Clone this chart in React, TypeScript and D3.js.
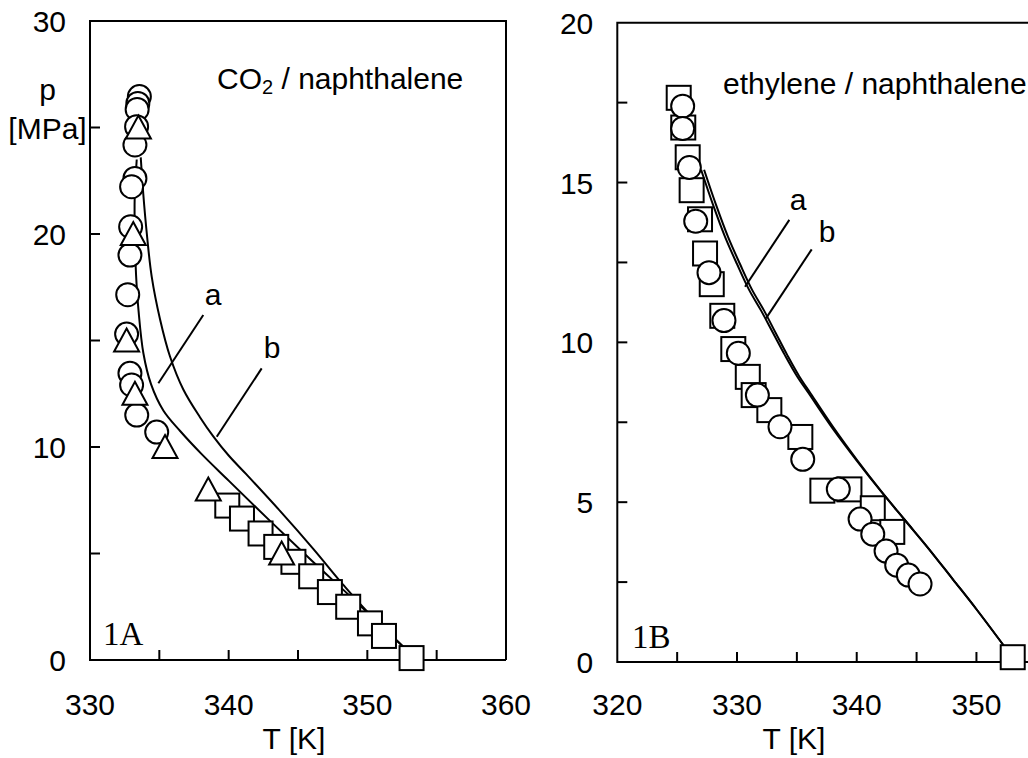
import React from "react";
import * as d3 from "d3";

// ---------- Panel A : CO2 / naphthalene ----------
const A_circleT = [333.56, 333.45, 333.4, 333.36, 333.24, 333.24, 333.0, 332.93, 332.88, 332.72, 332.64, 332.88, 333.0, 333.37, 334.81];
const A_circleP = [26.45, 26.13, 25.85, 25.04, 24.18, 22.61, 22.22, 20.34, 19.01, 17.15, 15.3, 13.46, 12.91, 11.5, 10.7];
const A_triT = [333.49, 333.12, 332.64, 333.24, 335.41, 338.53, 343.82];
const A_triP = [25, 20, 15, 12.5, 10, 8, 5];
const A_sqT = [339.9, 340.96, 342.3, 343.43, 344.67, 345.95, 347.3, 348.62, 350.19, 351.2, 353.19];
const A_sqP = [7.25, 6.64, 5.94, 5.31, 4.61, 3.93, 3.19, 2.5, 1.72, 1.13, 0.09];
const A_curveA_T = [333.37, 333.22, 333.25, 333.32, 333.5, 333.85, 334.4, 335.3, 336.5, 338.0, 340.0, 343.0, 346.0, 349.0, 353.6];
const A_curveA_P = [23.5, 21.6, 19.5, 18.1, 16.4, 14.4, 12.95, 11.7, 10.75, 9.7, 8.42, 6.52, 4.66, 2.85, 0.0];
const A_curveB_T = [333.66, 333.84, 334.1, 334.45, 335.05, 335.77, 336.73, 337.93, 338.89, 340.0, 341.3, 343.7, 346.1, 348.3, 350.0, 353.6];
const A_curveB_P = [23.6, 21.9, 20.0, 18.0, 16.0, 14.25, 12.7, 11.4, 10.5, 9.6, 8.7, 7.0, 5.22, 3.5, 2.27, 0.0];
const A_xTicks = [335, 340, 345, 350, 355];
const A_xLabels = [330, 340, 350, 360];
const A_yTicks = [5, 10, 15, 20, 25];
const A_yLabels = [0, 10, 20, 30];
const A_leaderA = [[338.17, 16.2], [334.93, 12.99]];
const A_leaderB = [[342.38, 13.69], [339.14, 10.48]];

// ---------- Panel B : ethylene / naphthalene ----------
const B_sqT = [325.13, 325.51, 325.88, 326.21, 326.91, 327.33, 327.89, 328.77, 329.69, 330.9, 331.39, 332.7, 335.29, 337.13, 339.39, 341.34, 342.97, 353.03];
const B_sqP = [17.65, 16.72, 15.79, 14.76, 13.85, 12.78, 11.82, 10.83, 9.79, 8.92, 8.35, 7.88, 7.04, 5.36, 5.4, 4.81, 4.07, 0.15];
const B_circleT = [325.46, 325.46, 326.02, 326.55, 327.66, 328.91, 330.11, 331.7, 333.59, 335.49, 338.46, 340.28, 341.34, 342.45, 343.34, 344.31, 345.29];
const B_circleP = [17.39, 16.69, 15.47, 13.79, 12.18, 10.68, 9.66, 8.35, 7.36, 6.34, 5.41, 4.47, 4.0, 3.47, 3.03, 2.72, 2.44];
const B_curveA_T = [327.0, 328.0, 329.0, 330.0, 331.0, 332.0, 333.0, 334.0, 335.0, 336.0, 338.0, 340.0, 342.0, 344.0, 346.0, 348.0, 350.0, 353.0];
const B_curveA_P = [15.4, 14.3, 13.3, 12.45, 11.65, 11.0, 10.3, 9.6, 8.95, 8.4, 7.3, 6.3, 5.35, 4.45, 3.55, 2.6, 1.65, 0.15];
const B_curveB_T = [327.25, 328.25, 329.25, 330.25, 331.25, 332.25, 333.22, 334.2, 335.18, 336.15, 338.12, 340.06, 342.02, 344.0, 346.0, 348.0, 350.0, 353.0];
const B_curveB_P = [15.4, 14.3, 13.3, 12.45, 11.65, 11.0, 10.3, 9.6, 8.95, 8.4, 7.3, 6.3, 5.35, 4.45, 3.55, 2.6, 1.65, 0.15];
const B_xTicks = [325, 330, 335, 340, 345, 350];
const B_xLabels = [320, 330, 340, 350];
const B_yTicks = [2.5, 5, 7.5, 10, 12.5, 15, 17.5];
const B_yLabels = [0, 5, 10, 15, 20];
const B_leaderA = [[334.37, 13.83], [330.67, 11.74]];
const B_leaderB = [[336.24, 12.91], [332.42, 10.75]];

const SANS = "'Liberation Sans', Arial, Helvetica, sans-serif";
const SERIF = "'Liberation Serif', 'Times New Roman', serif";
const FS = 30;
const SW = 2;

const zip = (a: number[], b: number[]) => a.map((v, i) => [v, b[i]] as [number, number]);

function Circles({ pts, x, y }: any) {
  return (
    <g>
      {pts.map(([t, p]: [number, number], i: number) => (
        <circle key={i} cx={x(t)} cy={y(p)} r={11.5} fill="#fff" stroke="#000" strokeWidth={SW} />
      ))}
    </g>
  );
}
function Squares({ pts, x, y }: any) {
  const h = 12;
  return (
    <g>
      {pts.map(([t, p]: [number, number], i: number) => (
        <rect key={i} x={x(t) - h} y={y(p) - h} width={2 * h} height={2 * h} fill="#fff" stroke="#000" strokeWidth={SW} />
      ))}
    </g>
  );
}
function Triangles({ pts, x, y }: any) {
  return (
    <g>
      {pts.map(([t, p]: [number, number], i: number) => {
        const cx = x(t), cy = y(p);
        const d = `M${cx},${cy - 12}L${cx + 12.5},${cy + 11}L${cx - 12.5},${cy + 11}Z`;
        return <path key={i} d={d} fill="#fff" stroke="#000" strokeWidth={SW} strokeLinejoin="miter" />;
      })}
    </g>
  );
}

function Panel(props: any) {
  const { x, y, xTicks, xLabels, yTicks, yLabels, curves, leaders, frameRight } = props;
  const [x0] = x.range();
  const [yb, yt] = y.range();
  const line = d3.line<[number, number]>().x(d => x(d[0])).y(d => y(d[1])).curve(d3.curveCatmullRom.alpha(0.5));
  return (
    <g>
      {curves.map((c: [number, number][], i: number) => (
        <path key={i} d={line(c) || ""} fill="none" stroke="#000" strokeWidth={SW} />
      ))}
      {leaders.map((l: number[][], i: number) => (
        <line key={i} x1={x(l[0][0])} y1={y(l[0][1])} x2={x(l[1][0])} y2={y(l[1][1])} stroke="#000" strokeWidth={SW} />
      ))}
      <path d={`M${frameRight},${yb}H${x0}V${yt}H${frameRight}${frameRight < 1028 ? `V${yb}` : ""}`} fill="none" stroke="#000" strokeWidth={SW} />
      {xTicks.map((t: number) => (
        <line key={"xt" + t} x1={x(t)} x2={x(t)} y1={yb} y2={yb - 10} stroke="#000" strokeWidth={SW} />
      ))}
      {yTicks.map((t: number) => (
        <line key={"yt" + t} x1={x0} x2={x0 + 10} y1={y(t)} y2={y(t)} stroke="#000" strokeWidth={SW} />
      ))}
      {xLabels.map((t: number) => (
        <text key={"xl" + t} x={x(t)} y={715} textAnchor="middle" fontFamily={SANS} fontSize={FS}>{t}</text>
      ))}
      {yLabels.map((t: number) => (
        <text key={"yl" + t} x={x0 - 24} y={y(t) + 11} textAnchor="end" fontFamily={SANS} fontSize={FS}>{t}</text>
      ))}
    </g>
  );
}

export default function App() {
  const xA = d3.scaleLinear().domain([330, 360]).range([90, 506]);
  const yA = d3.scaleLinear().domain([0, 30]).range([660, 21]);
  const xB = d3.scaleLinear().domain([320, 355]).range([617.3, 1036.3]);
  const yB = d3.scaleLinear().domain([0, 20]).range([662, 22.7]);

  return (
    <svg width={1028} height={758} style={{ position: "absolute", left: 0, top: 0, background: "#fff" }}>
      <rect width={1028} height={758} fill="#fff" />
      <Panel
        x={xA} y={yA} xTicks={A_xTicks} xLabels={A_xLabels} yTicks={A_yTicks} yLabels={A_yLabels}
        curves={[zip(A_curveA_T, A_curveA_P), zip(A_curveB_T, A_curveB_P)]}
        leaders={[A_leaderA, A_leaderB]} frameRight={506}
      />
      <Squares pts={zip(A_sqT, A_sqP)} x={xA} y={yA} />
      <Circles pts={zip(A_circleT, A_circleP)} x={xA} y={yA} />
      <Triangles pts={zip(A_triT, A_triP)} x={xA} y={yA} />
      <text x={213} y={305} textAnchor="middle" fontFamily={SANS} fontSize={FS}>a</text>
      <text x={272} y={358} textAnchor="middle" fontFamily={SANS} fontSize={FS}>b</text>
      <text x={217} y={89} fontFamily={SANS} fontSize={FS}>CO<tspan fontSize={20} dy={5}>2</tspan><tspan dy={-5}> / naphthalene</tspan></text>
      <text x={47.5} y={100} textAnchor="middle" fontFamily={SANS} fontSize={FS}>p</text>
      <text x={47.5} y={139} textAnchor="middle" fontFamily={SANS} fontSize={FS}>[MPa]</text>
      <text x={294} y={749} textAnchor="middle" fontFamily={SANS} fontSize={FS}>T [K]</text>
      <text x={103} y={645} fontFamily={SERIF} fontSize={33}>1A</text>

      <Panel
        x={xB} y={yB} xTicks={B_xTicks} xLabels={B_xLabels} yTicks={B_yTicks} yLabels={B_yLabels}
        curves={[zip(B_curveA_T, B_curveA_P), zip(B_curveB_T, B_curveB_P)]}
        leaders={[B_leaderA, B_leaderB]} frameRight={1040}
      />
      <Squares pts={zip(B_sqT, B_sqP)} x={xB} y={yB} />
      <Circles pts={zip(B_circleT, B_circleP)} x={xB} y={yB} />
      <text x={798} y={210} textAnchor="middle" fontFamily={SANS} fontSize={FS}>a</text>
      <text x={827} y={242} textAnchor="middle" fontFamily={SANS} fontSize={FS}>b</text>
      <text x={723} y={94} fontFamily={SANS} fontSize={FS}>ethylene / naphthalene</text>
      <text x={794} y={749} textAnchor="middle" fontFamily={SANS} fontSize={FS}>T [K]</text>
      <text x={632} y={648} fontFamily={SERIF} fontSize={33}>1B</text>
    </svg>
  );
}
